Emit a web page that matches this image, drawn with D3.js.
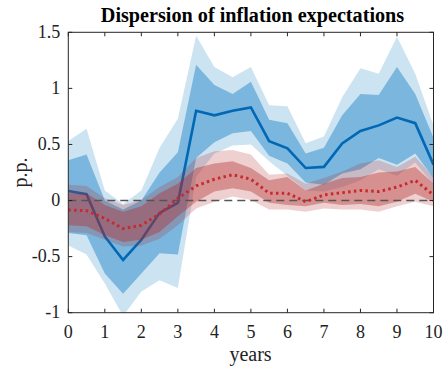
<!DOCTYPE html>
<html><head><meta charset="utf-8">
<script src="https://cdn.jsdelivr.net/npm/d3@7"></script>
<style>body{margin:0;background:#fff}</style>
</head><body><div id="chart"></div>
<script>
const years = [0,0.5,1,1.5,2,2.5,3,3.5,4,4.5,5,5.5,6,6.5,7,7.5,8,8.5,9,9.5,10];
const blueMedian = [0.085,0.056,-0.32,-0.53,-0.35,-0.11,-0.02,0.80,0.76,0.80,0.83,0.53,0.465,0.29,0.30,0.51,0.62,0.67,0.74,0.69,0.32];
const blueInnerUpper = [0.36,0.41,0.0,-0.08,0.0,0.25,0.43,1.21,1.03,0.95,1.06,0.72,0.69,0.42,0.47,0.76,0.95,0.94,1.19,0.95,0.56];
const blueInnerLower = [-0.29,-0.31,-0.65,-0.83,-0.65,-0.47,-0.48,0.38,0.52,0.60,0.62,0.40,0.33,0.16,0.14,0.24,0.28,0.38,0.32,0.42,0.20];
const blueOuterUpper = [0.53,0.64,0.09,-0.03,0.09,0.47,0.73,1.47,1.19,1.10,1.19,0.85,0.84,0.51,0.57,0.92,1.18,1.13,1.46,1.13,0.67];
const blueOuterLower = [-0.40,-0.48,-0.74,-1.03,-0.81,-0.71,-0.78,0.21,0.42,0.49,0.50,0.35,0.22,0.09,0.08,0.12,0.18,0.28,0.22,0.34,0.14];
const redMedian = [-0.084,-0.09,-0.16,-0.25,-0.22,-0.12,0.02,0.13,0.19,0.23,0.19,0.065,0.065,-0.01,0.05,0.07,0.09,0.08,0.12,0.18,0.05];
const redInnerUpper = [0.065,0.065,-0.04,-0.10,-0.05,0.065,0.15,0.29,0.33,0.35,0.29,0.18,0.21,0.09,0.15,0.20,0.21,0.25,0.26,0.30,0.15];
const redInnerLower = [-0.22,-0.23,-0.31,-0.37,-0.35,-0.28,-0.14,-0.01,0.08,0.11,0.08,-0.02,-0.04,-0.05,-0.02,-0.04,-0.03,-0.05,-0.01,0.06,-0.01];
const redOuterUpper = [0.14,0.13,0.02,-0.04,0.005,0.12,0.21,0.38,0.44,0.45,0.41,0.23,0.24,0.15,0.20,0.26,0.33,0.36,0.30,0.39,0.21];
const redOuterLower = [-0.28,-0.29,-0.35,-0.41,-0.40,-0.34,-0.22,-0.07,-0.01,0.035,0.005,-0.08,-0.08,-0.10,-0.07,-0.08,-0.08,-0.10,-0.05,-0.01,-0.05];
const xTicks = [0,1,2,3,4,5,6,7,8,9,10];
const yTicks = [-1,-0.5,0,0.5,1,1.5];
const yTickLabels = ["-1","-0.5","0","0.5","1","1.5"];

const W = 445, H = 367;
const m = {left:68.3, right:445-433.5, top:32.3, bottom:367-312.7};
const iw = W - m.left - m.right, ih = H - m.top - m.bottom;
const svg = d3.select("#chart").append("svg").attr("width",W).attr("height",H)
  .style("font-family","'Liberation Serif','Times New Roman',serif");
const g = svg.append("g").attr("transform",`translate(${m.left},${m.top})`);
const x = d3.scaleLinear().domain([0,10]).range([0,iw]);
const y = d3.scaleLinear().domain([-1,1.5]).range([ih,0]);

svg.append("defs").append("clipPath").attr("id","clip").append("rect").attr("width",iw).attr("height",ih);
const plot = g.append("g").attr("clip-path","url(#clip)");

const area = (lo,hi) => d3.area().x((d,i)=>x(years[i])).y0((d,i)=>y(lo[i])).y1((d,i)=>y(hi[i]))(years);
const line = (v) => d3.line().x((d,i)=>x(years[i])).y((d,i)=>y(v[i]))(years);

plot.append("path").attr("d",area(blueOuterLower,blueOuterUpper)).attr("fill","#0072BD").attr("fill-opacity",0.2);
plot.append("path").attr("d",area(blueInnerLower,blueInnerUpper)).attr("fill","#0072BD").attr("fill-opacity",0.4);
plot.append("path").attr("d",line(blueMedian)).attr("fill","none").attr("stroke","#0068b5").attr("stroke-width",2.6);
plot.append("path").attr("d",area(redOuterLower,redOuterUpper)).attr("fill","#b22828").attr("fill-opacity",0.22);
plot.append("path").attr("d",area(redInnerLower,redInnerUpper)).attr("fill","#b22828").attr("fill-opacity",0.38);
plot.append("line").attr("x1",0).attr("x2",iw).attr("y1",y(0)).attr("y2",y(0))
  .attr("stroke","#555").attr("stroke-width",1.4).attr("stroke-dasharray","8,5");
plot.append("path").attr("d",line(redMedian)).attr("fill","none").attr("stroke","#c52a2e")
  .attr("stroke-width",3).attr("stroke-dasharray","2.5,3.3");

// box and ticks
const axCol = "#262626";
g.append("rect").attr("width",iw).attr("height",ih).attr("fill","none").attr("stroke",axCol).attr("stroke-width",1);
const tl = 4;
xTicks.forEach(t=>{
  g.append("line").attr("x1",x(t)).attr("x2",x(t)).attr("y1",ih).attr("y2",ih-tl).attr("stroke",axCol);
  g.append("line").attr("x1",x(t)).attr("x2",x(t)).attr("y1",0).attr("y2",tl).attr("stroke",axCol);
  g.append("text").attr("x",x(t)).attr("y",ih+25).attr("text-anchor","middle").attr("font-size",18).attr("fill","#222").text(t);
});
yTicks.forEach((t,i)=>{
  g.append("line").attr("x1",0).attr("x2",tl).attr("y1",y(t)).attr("y2",y(t)).attr("stroke",axCol);
  g.append("line").attr("x1",iw).attr("x2",iw-tl).attr("y1",y(t)).attr("y2",y(t)).attr("stroke",axCol);
  g.append("text").attr("x",-8).attr("y",y(t)+5.5).attr("text-anchor","end").attr("font-size",18).attr("fill","#222").text(yTickLabels[i]);
});
svg.append("text").attr("x",252.5).attr("y",22).attr("text-anchor","middle")
  .attr("font-size",20.2).attr("font-weight","bold").attr("fill","#000").text("Dispersion of inflation expectations");
svg.append("text").attr("x",250.5).attr("y",361).attr("text-anchor","middle")
  .attr("font-size",20).attr("fill","#222").text("years");
svg.append("text").attr("transform",`translate(27,${m.top+ih/2}) rotate(-90)`).attr("text-anchor","middle")
  .attr("font-size",20).attr("fill","#222").text("p.p.");
</script></body></html>
